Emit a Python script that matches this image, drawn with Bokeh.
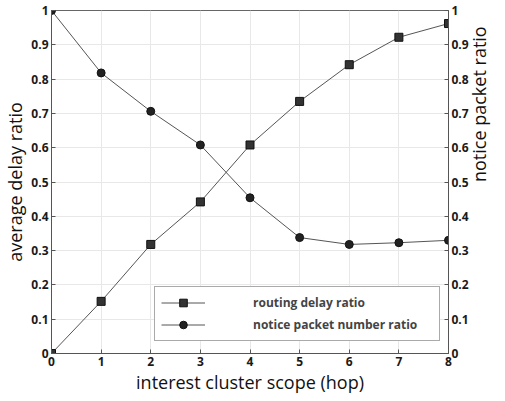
import math
from bokeh.plotting import figure
from bokeh.models import (LinearAxis, Range1d, FixedTicker, CustomJSTickFormatter,
                          Legend, LegendItem)
from bokeh.embed import file_html
from bokeh.resources import INLINE

hops = [0, 1, 2, 3, 4, 5, 6, 7, 8]
routing_delay_ratio = [0.0, 0.152, 0.318, 0.442, 0.608, 0.735, 0.842, 0.922, 0.962]
notice_packet_ratio = [1.0, 0.818, 0.706, 0.608, 0.454, 0.338, 0.318, 0.323, 0.330]
y_ticks = [0, 0.1, 0.2, 0.3, 0.4, 0.5, 0.6, 0.7, 0.8, 0.9, 1.0]
x_ticks = [0, 1, 2, 3, 4, 5, 6, 7, 8]

FONT = "Open Sans"
p = figure(width=505, height=401, output_backend="svg", toolbar_location=None,
           x_range=Range1d(0, 8), y_range=Range1d(0, 1),
           min_border_left=50, min_border_right=47, min_border_top=10, min_border_bottom=48)
p.extra_y_ranges = {"right": Range1d(0, 1)}

fmt = CustomJSTickFormatter(code="return tick.toFixed(1).replace(/\\.0$/, '');")

p.xaxis.ticker = FixedTicker(ticks=x_ticks)
p.yaxis.ticker = FixedTicker(ticks=y_ticks)
p.yaxis.formatter = fmt
p.xaxis.axis_label = "interest cluster scope (hop)"
p.yaxis.axis_label = "average delay ratio"

ra = LinearAxis(y_range_name="right", ticker=FixedTicker(ticks=y_ticks), formatter=fmt,
                axis_label="notice packet ratio")
p.add_layout(ra, "right")

for ax in [p.xaxis[0], p.yaxis[0], ra]:
    ax.major_label_text_font = FONT
    ax.major_label_text_font_style = "bold"
    ax.major_label_text_font_size = "12px"
    ax.major_label_text_color = "#1a1a1a"
    ax.axis_label_text_font = FONT
    ax.axis_label_text_font_style = "normal"
    ax.axis_label_text_font_size = "18px"
    ax.axis_label_text_color = "#111111"
    ax.axis_line_color = "#555555"
    ax.major_tick_line_color = "#555555"
    ax.major_tick_in = 4
    ax.major_tick_out = 0
    ax.minor_tick_line_color = None
    ax.major_label_standoff = 3
    ax.axis_label_standoff = 1

ra.axis_label_orientation = math.pi / 2
ra.axis_label_standoff = 7

p.xgrid.ticker = FixedTicker(ticks=x_ticks)
p.ygrid.ticker = FixedTicker(ticks=y_ticks)
p.grid.grid_line_color = "#e8e8e8"
p.outline_line_color = "#666666"

l1 = p.line(hops, routing_delay_ratio, line_color="#555555", line_width=1)
s1 = p.scatter(hops, routing_delay_ratio, marker="square", size=8,
               fill_color="#333333", line_color="#111111")
l2 = p.line(hops, notice_packet_ratio, line_color="#555555", line_width=1, y_range_name="right")
s2 = p.scatter(hops, notice_packet_ratio, marker="circle", size=8,
               fill_color="#222222", line_color="#111111", y_range_name="right")

legend = Legend(items=[LegendItem(label="routing delay ratio", renderers=[l1, s1]),
                       LegendItem(label="notice packet number ratio", renderers=[l2, s2])],
                location=(103, 12), padding=6, glyph_width=44, glyph_height=19,
                label_height=19, spacing=3, label_standoff=48, label_width=180,
                label_text_font=FONT, label_text_font_style="bold",
                label_text_font_size="12px", border_line_color="#555555",
                background_fill_alpha=1.0, margin=0)
p.add_layout(legend, "center")

open("out.html", "w").write(file_html(p, INLINE))
